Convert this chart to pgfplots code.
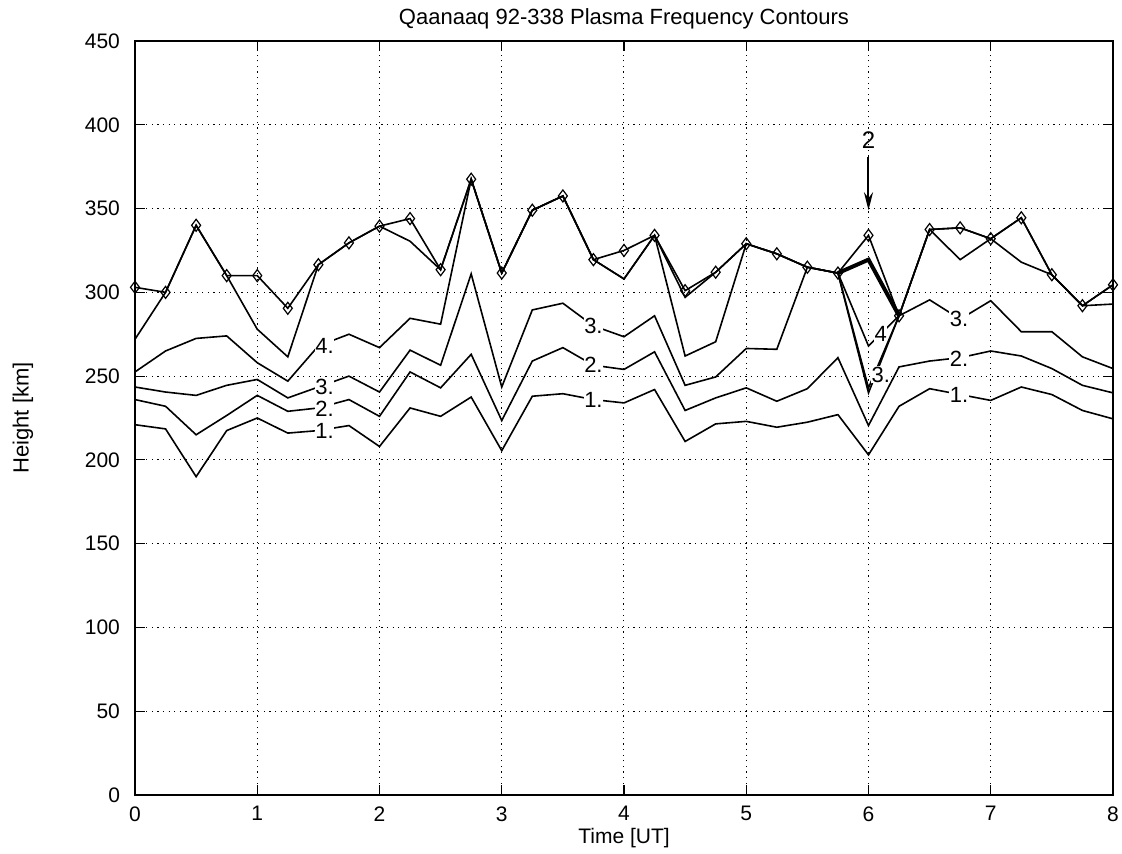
\documentclass[border=0pt]{standalone}
\usepackage{fontspec}
\setmainfont{Liberation Sans}
\usepackage{pgfplots}
\usepackage{pgfplotstable}
\pgfplotsset{compat=1.18}
\usetikzlibrary{arrows.meta}

% t: time [UT]; D: peak height (diamonds); U: upper contour; C4..C1: contours 4..1
\pgfplotstableread{
t    D     U     C4    C3    C2    C1
0.00 303   272   252.5 243.5 236   221
0.25 300   300   265   240.5 232   218.5
0.50 340   340   272.5 238.5 215   190
0.75 310   310   274   244.5 226.5 217.5
1.00 310   278   258   248   238.5 225
1.25 290.5 261.5 247   237   229   216
1.50 316.5 316.5 268   243.5 231   217.5
1.75 329.5 329.5 275   250   236   220.5
2.00 339.5 339.5 267   240.5 226   208
2.25 344   330.5 284.5 265.5 252.5 231
2.50 313.5 313.5 281   256.5 243   226
2.75 367.5 367.5 367.5 311   263   237.5
3.00 311.5 311.5 311.5 243.5 223.5 205.5
3.25 349   349   349   289.5 259   238
3.50 357.5 357.5 357.5 293.5 267   239.5
3.75 319.5 319.5 319.5 280   256.5 236
4.00 325   308   308   273.5 254   234
4.25 334   334   334   286   264.5 242
4.50 301   297   262   244.5 229.5 211
4.75 312   312   270.5 249.5 237   221.5
5.00 329   329   329   266.5 243   223
5.25 323   323   323   266   235   219.5
5.50 315   315   315   315   242.5 222.5
5.75 311.5 311.5 311.5 311.5 261   227
6.00 334   243   268   240   220.5 203
6.25 286   286   286   286   255.5 232
6.50 337.5 337.5 337.5 295.5 259   242.5
6.75 338.5 319.5 338.5 284   261   239
7.00 332   332   332   295   265   235.5
7.25 344.5 318   344.5 276.5 262   243.5
7.50 310.5 310.5 310.5 276.5 254.5 239
7.75 292   292   292   261.5 244.5 229.5
8.00 304.5 293   304.5 254.5 240   224.5
}\contours

\begin{document}
\begin{tikzpicture}
  \begin{axis}[
    scale only axis,width=489pt,height=377pt,
    xmin=0,xmax=8,ymin=0,ymax=450,
    xtick={0,1,...,8},ytick={0,50,...,450},
    grid=major,
    grid style={black,line width=0.5pt,dash pattern=on 0.6pt off 2.2pt},
    tick align=inside,major tick length=5pt,
    tick style={black,line width=0.6pt},
    axis line style={black,line width=0.9pt},
    /pgf/number format/assume math mode=true,
    ticklabel style={font=\fontsize{10.5}{12}\selectfont},
    xticklabel style={inner sep=1pt,yshift=-4.5pt},
    yticklabel style={xshift=-4pt},
    every axis title shift=0pt,
    title={Qaanaaq 92-338 Plasma Frequency Contours},
    title style={font=\fontsize{11}{13}\selectfont,at={(axis description cs:0.5,1.029)},anchor=center},
    xlabel={Time [UT]},
    xlabel style={font=\fontsize{10.5}{12}\selectfont,at={(axis description cs:0.5,-0.057)},anchor=center,inner sep=1pt},
    ylabel={Height [km]},
    ylabel style={font=\fontsize{11}{13}\selectfont,at={(axis description cs:-0.1145,0.5)},anchor=center},
    every axis plot/.append style={black,line width=0.8pt},
  ]
    \addplot[no marks] table[x=t,y=C1] {\contours};
    \addplot[no marks] table[x=t,y=C2] {\contours};
    \addplot[no marks] table[x=t,y=C3] {\contours};
    \addplot[no marks] table[x=t,y=C4] {\contours};
    \addplot[no marks] table[x=t,y=U] {\contours};
    \addplot[line width=2pt,no marks] coordinates {(5.75,311.5)(6,319.5)(6.25,286)};
    \addplot[mark=diamond,mark size=3pt,mark options={fill=white,line width=0.6pt}] table[x=t,y=D] {\contours};

    \begin{scope}[every node/.style={fill=white,inner sep=0.3pt,font=\fontsize{11}{12}\selectfont}]
      \node at (axis cs:1.55,268) {4.};
      \node at (axis cs:1.55,243.5) {3.};
      \node at (axis cs:1.55,230.5) {2.};
      \node at (axis cs:1.55,217) {1.};
      \node at (axis cs:3.75,280) {3.};
      \node at (axis cs:3.75,256.5) {2.};
      \node at (axis cs:3.75,236) {1.};
      \node at (axis cs:6.74,284) {3.};
      \node at (axis cs:6.74,260.5) {2.};
      \node at (axis cs:6.74,238.5) {1.};
      \node at (axis cs:6.1,275) {4};
      \node at (axis cs:6.1,251) {3.};
    \end{scope}
    \draw[line width=1pt,-{Stealth[length=9pt,width=4.5pt]}] (axis cs:6,381) -- (axis cs:6,349);
    \node[font=\fontsize{12}{13}\selectfont] at (axis cs:6,391) {2};
  \end{axis}
  \pgfresetboundingbox
  \path[use as bounding box] (-67.5pt,-29pt) rectangle (493.5pt,397.5pt);
\end{tikzpicture}
\end{document}
